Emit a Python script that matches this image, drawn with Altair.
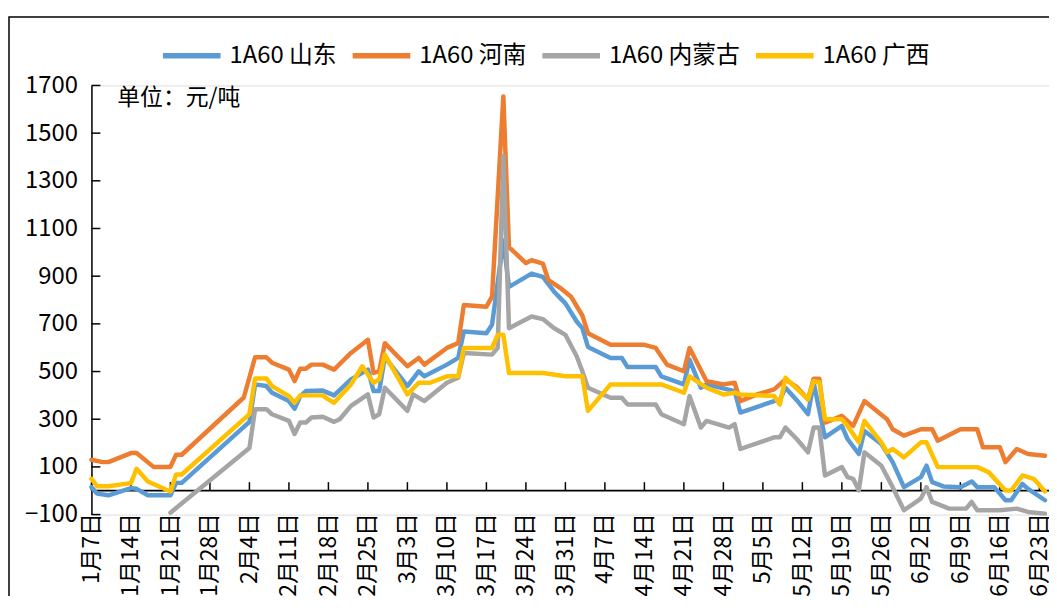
import altair as alt
import pandas as pd

FONT = "Noto Sans CJK SC"
YEAR = "2024"

series_names = ["1A60 山东", "1A60 河南", "1A60 内蒙古", "1A60 广西"]
series_colors = ["#5B9BD5", "#ED7D31", "#A5A5A5", "#FFC000"]

shandong_dates = ["01-07","01-08","01-10","01-14","01-15","01-17","01-21","01-22","01-23","02-04","02-05","02-07","02-08","02-11","02-12","02-13","02-14","02-17","02-19","02-22","02-25","02-26","02-27","02-28","03-03","03-05","03-06","03-10","03-12","03-13","03-17","03-18","03-20","03-21","03-25","03-27","03-29","03-30","03-31","04-02","04-03","04-04","04-08","04-10","04-11","04-16","04-17","04-21","04-22","04-24","04-25","04-30","05-01","05-07","05-08","05-09","05-11","05-13","05-14","05-16","05-19","05-20","05-22","05-23","05-26","05-28","05-30","06-02","06-03","06-04","06-06","06-09","06-11","06-12","06-15","06-17","06-18","06-20","06-21","06-24"]
shandong_values = [15,-12,-19,11,8,-19,-19,33,33,289,446,439,411,376,344,397,418,420,400,467,508,418,418,560,439,501,480,529,557,668,661,696,1050,855,911,897,835,810,786,710,682,603,557,557,519,519,480,446,550,432,446,418,328,376,380,432,380,321,453,224,272,217,154,251,196,120,15,57,105,36,18,15,39,15,15,-40,-40,29,8,-40]

henan_dates = ["01-07","01-09","01-10","01-14","01-15","01-18","01-21","01-22","01-23","02-03","02-05","02-07","02-08","02-11","02-12","02-13","02-14","02-15","02-17","02-19","02-22","02-25","02-26","02-27","02-28","03-03","03-05","03-06","03-10","03-12","03-13","03-17","03-18","03-20","03-21","03-24","03-25","03-27","03-28","03-30","04-01","04-03","04-04","04-08","04-14","04-16","04-18","04-21","04-22","04-25","04-28","04-30","05-01","05-04","05-07","05-09","05-11","05-13","05-14","05-15","05-16","05-19","05-21","05-23","05-27","05-28","05-30","06-02","06-04","06-05","06-09","06-12","06-13","06-16","06-17","06-19","06-21","06-24"]
henan_values = [130,120,120,158,158,100,100,151,151,391,560,560,537,508,460,512,512,529,529,508,578,633,494,501,619,522,557,529,599,619,779,772,814,1654,1022,955,967,953,883,852,814,735,661,612,612,599,529,501,599,460,446,453,376,404,425,467,435,383,470,470,286,314,272,376,300,258,231,258,258,210,258,258,182,182,120,175,154,147]

neimenggu_dates = ["01-21","02-04","02-05","02-07","02-08","02-11","02-12","02-13","02-14","02-15","02-17","02-19","02-20","02-22","02-25","02-26","02-27","02-28","03-03","03-04","03-06","03-10","03-12","03-13","03-18","03-19","03-20","03-21","03-25","03-27","03-29","03-30","03-31","04-02","04-03","04-04","04-08","04-10","04-11","04-16","04-17","04-21","04-22","04-24","04-25","04-29","04-30","05-01","05-07","05-08","05-09","05-11","05-13","05-14","05-15","05-16","05-19","05-20","05-21","05-22","05-23","05-26","05-28","05-30","06-02","06-03","06-04","06-07","06-10","06-11","06-12","06-16","06-19","06-21","06-24"]
neimenggu_values = [-92,179,342,342,321,293,238,286,286,307,310,289,300,356,404,307,321,432,335,404,376,453,474,578,571,599,1404,682,731,720,682,668,654,564,501,432,390,390,362,362,321,279,397,265,293,265,279,175,224,224,265,217,161,265,265,64,99,57,50,1,161,105,15,-82,-33,15,-47,-75,-75,-47,-82,-82,-75,-89,-96]

guangxi_dates = ["01-07","01-08","01-10","01-14","01-15","01-17","01-21","01-22","01-23","02-04","02-05","02-07","02-08","02-11","02-12","02-13","02-17","02-18","02-19","02-22","02-24","02-26","02-27","02-28","03-03","03-05","03-07","03-10","03-12","03-13","03-18","03-19","03-20","03-21","03-27","03-31","04-03","04-04","04-08","04-17","04-21","04-22","04-25","04-28","04-30","05-01","05-07","05-08","05-09","05-11","05-13","05-14","05-15","05-16","05-19","05-20","05-22","05-23","05-26","05-27","05-28","05-30","06-02","06-03","06-05","06-12","06-14","06-17","06-18","06-20","06-22","06-24"]
guangxi_values = [50,19,19,32,92,39,-3,68,68,321,471,471,439,397,369,400,400,383,369,446,522,453,467,571,404,453,453,480,480,599,599,654,654,494,494,480,480,335,446,446,411,480,432,404,411,404,397,362,474,428,383,460,455,300,300,272,203,293,203,161,175,140,203,203,99,99,78,1,1,64,50,-3]

tick_dates = ["01-07","01-14","01-21","01-28","02-04","02-11","02-18","02-25","03-03","03-10","03-17","03-24","03-31","04-07","04-14","04-21","04-28","05-05","05-12","05-19","05-26","06-02","06-09","06-16","06-23"]
y_ticks = [-100, 100, 300, 500, 700, 900, 1100, 1300, 1500, 1700]
unit_text = "单位：元/吨"

all_dates = [shandong_dates, henan_dates, neimenggu_dates, guangxi_dates]
all_values = [shandong_values, henan_values, neimenggu_values, guangxi_values]

rows = []
for name, ds, vs in zip(series_names, all_dates, all_values):
    assert len(ds) == len(vs), name
    for d, v in zip(ds, vs):
        rows.append({"series": name, "date": f"{YEAR}-{d}", "value": v})
df = pd.DataFrame(rows)

tick_df = pd.DataFrame({"date": [f"{YEAR}-{d}" for d in tick_dates]})
ytick_df = pd.DataFrame({"value": y_ticks})


def dt(md, hours=0):
    m, d = md.split("-")
    return alt.DateTime(year=int(YEAR), month=int(m), date=int(d), hours=hours, utc=True)


W, H = 964, 432

x_enc = alt.X(
    "date:T",
    title=None,
    scale=alt.Scale(type="utc", domain=[dt("01-07"), dt("06-24", 17)]),
    axis=alt.Axis(
        values=[dt(d) for d in tick_dates],
        labelExpr="utcFormat(datum.value, '%-m月%-d日')",
        labelAngle=270,
        labelFontSize=23,
        labelFont=FONT,
        labelColor="#000000",
        labelPadding=-2,
        labelOverlap=False,
        labelFlush=False,
        labelBound=False,
        domain=False,
        ticks=False,
        grid=False,
    ),
)
y_enc = alt.Y(
    "value:Q",
    title=None,
    scale=alt.Scale(domain=[-100, 1700], nice=False, zero=False),
    axis=alt.Axis(
        values=y_ticks,
        format="d",
        labelFontSize=24,
        labelFont=FONT,
        labelColor="#000000",
        labelPadding=14,
        domain=True,
        domainColor="#000000",
        domainWidth=1.5,
        ticks=False,
        grid=False,
    ),
)

color_enc = alt.Color(
    "series:N",
    scale=alt.Scale(domain=series_names, range=series_colors),
    legend=alt.Legend(
        title=None,
        orient="none",
        direction="horizontal",
        legendX=69,
        legendY=-62,
        symbolType="stroke",
        symbolSize=3364,
        symbolStrokeWidth=5.5,
        labelFontSize=24,
        labelFont=FONT,
        labelColor="#000000",
        labelOffset=6,
        columnPadding=5,
        labelLimit=0,
        padding=0,
    ),
)

frame = alt.Chart(pd.DataFrame({"k": [0]})).mark_rect(
    fill=None, filled=False, stroke="#000000", strokeWidth=1.5
).encode(
    x=alt.value(-83), x2=alt.value(3000), y=alt.value(-69), y2=alt.value(3000)
)

zero_line = alt.Chart(pd.DataFrame({"k": [0]})).mark_rule(
    color="#000000", strokeWidth=1.8
).encode(y=alt.datum(0), x=alt.value(0), x2=alt.value(W))

x_ticks = alt.Chart(tick_df).mark_rule(color="#000000", strokeWidth=1.5).encode(
    x=x_enc, y=alt.datum(0), y2=alt.datum(36)
)

y_tick_marks = alt.Chart(ytick_df).mark_rule(color="#000000", strokeWidth=1.5).encode(
    y=y_enc, x=alt.value(0), x2=alt.value(9)
)

lines = []
for name in series_names:
    lines.append(
        alt.Chart(df)
        .transform_filter(alt.datum.series == name)
        .mark_line(strokeWidth=4.5, strokeJoin="round", strokeCap="round")
        .encode(x=x_enc, y=y_enc, color=color_enc)
    )

unit = alt.Chart(pd.DataFrame({"t": [unit_text]})).mark_text(
    align="left", baseline="middle", fontSize=23, font=FONT, color="#000000"
).encode(text="t:N", x=alt.value(26), y=alt.value(13))

chart = alt.layer(frame, zero_line, x_ticks, y_tick_marks, *lines, unit).properties(
    width=W,
    height=H,
    autosize=alt.AutoSizeParams(type="none"),
    padding={"left": 84, "top": 76, "right": 0, "bottom": 80},
).configure_view(stroke=None).configure(font=FONT, background="#ffffff")

chart.save("out.html", embed_options={"renderer": "svg", "actions": False})
